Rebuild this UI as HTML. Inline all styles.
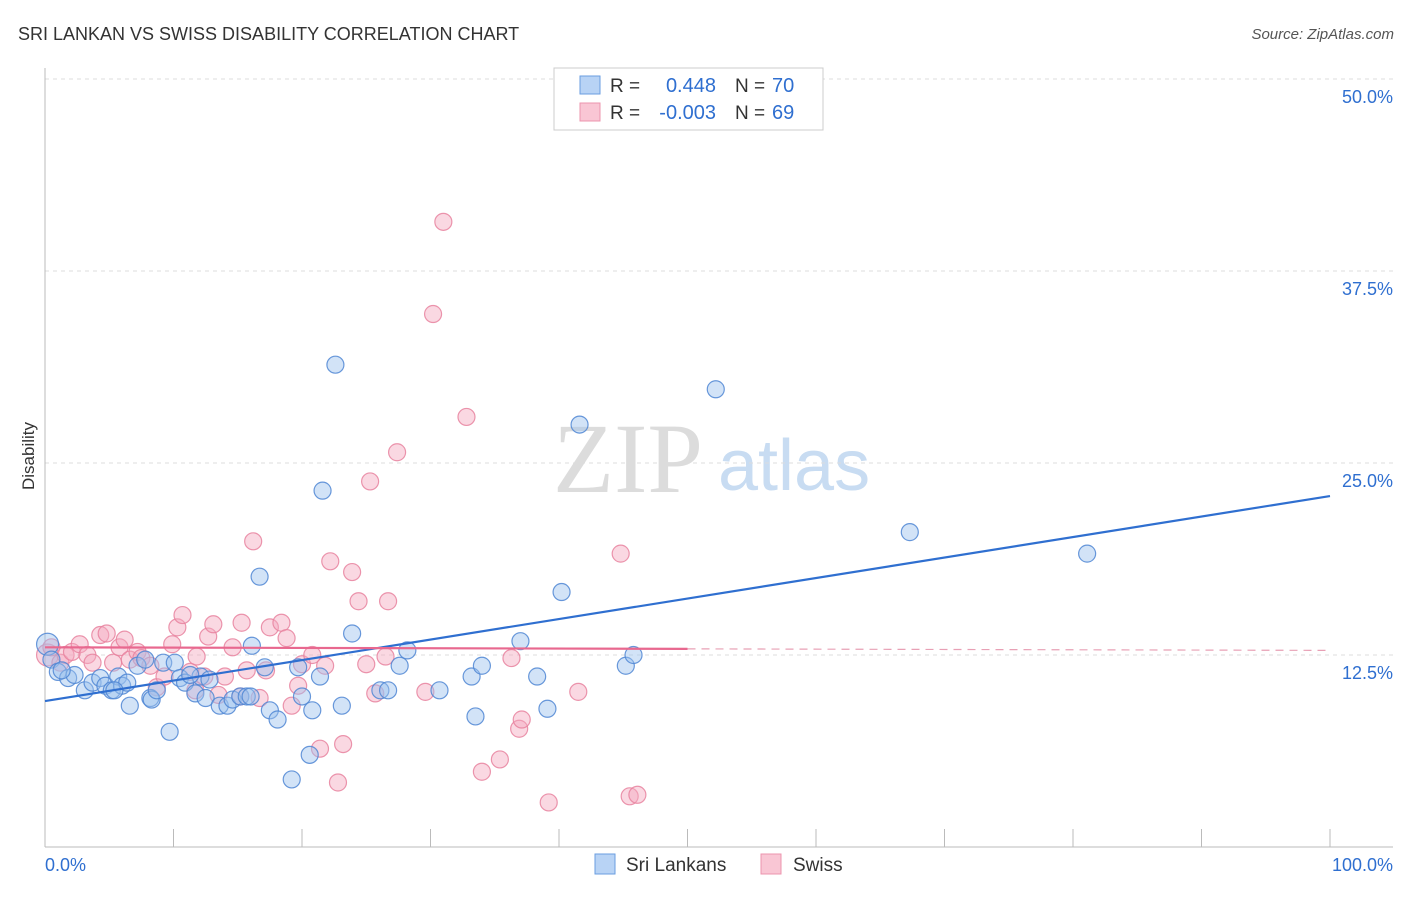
<!DOCTYPE html>
<html><head><meta charset="utf-8"><style>
body{margin:0;background:#fff;font-family:"Liberation Sans",sans-serif}
svg text{font-family:"Liberation Sans",sans-serif}
</style></head><body>
<svg id="c" width="1406" height="892">
<text x="18" y="40" font-size="18" fill="#333">SRI LANKAN VS SWISS DISABILITY CORRELATION CHART</text>
<text x="1394" y="39" font-size="15" fill="#555" font-style="italic" text-anchor="end">Source: ZipAtlas.com</text>
<text x="34" y="456" font-size="17" fill="#333" text-anchor="middle" transform="rotate(-90 34 456)">Disability</text>
<text x="553" y="492" font-size="100" fill="#dcdcdc" style="font-family:'Liberation Serif',serif">ZIP</text>
<text x="718" y="490" font-size="72" fill="#c8dcf2">atlas</text>
<g id="grid"></g><g id="pts"></g><g id="lines"></g>
<g>
<rect x="554" y="68" width="269" height="62" fill="#fff" stroke="#ccc"/>
<rect x="580" y="76" width="20" height="18" fill="#b8d3f5" stroke="#6a9ee0"/>
<text x="610" y="92" font-size="19" fill="#333">R =</text><text x="716" y="92" font-size="20" fill="#2f6fd0" text-anchor="end">0.448</text>
<text x="735" y="92" font-size="19" fill="#333">N =</text><text x="772" y="92" font-size="20" fill="#2f6fd0">70</text>
<rect x="580" y="103" width="20" height="18" fill="#f9c6d4" stroke="#ec94ae"/>
<text x="610" y="119" font-size="19" fill="#333">R =</text><text x="716" y="119" font-size="20" fill="#2f6fd0" text-anchor="end">-0.003</text>
<text x="735" y="119" font-size="19" fill="#333">N =</text><text x="772" y="119" font-size="20" fill="#2f6fd0">69</text>
</g>
<g>
<rect x="595" y="854" width="20" height="20" fill="#b8d3f5" stroke="#6a9ee0"/>
<text x="626" y="871" font-size="19" fill="#333">Sri Lankans</text>
<rect x="761" y="854" width="20" height="20" fill="#f9c6d4" stroke="#ec94ae"/>
<text x="793" y="871" font-size="19" fill="#333">Swiss</text>
</g>
</svg>
<script>
const yTicks=[12.5,25,37.5,50];
const yTickLabels=["12.5%","25.0%","37.5%","50.0%"];
const xTickLabels=["0.0%","100.0%"];
const blueX=[0.2,0.5,1.0,1.8,2.3,3.1,3.7,4.3,4.7,5.2,5.7,6.0,6.4,6.6,7.2,7.8,8.2,8.3,8.7,9.2,9.7,10.1,10.5,10.9,11.7,12.1,12.5,12.8,13.6,14.2,14.6,15.2,15.7,16.1,16.7,17.1,17.5,18.1,19.2,19.7,20.0,20.6,20.8,21.4,21.6,22.6,23.1,23.9,26.1,26.7,27.6,28.2,30.7,33.2,33.5,34.0,37.0,38.3,39.1,40.2,41.6,45.2,45.8,52.2,67.3,81.1,1.3,5.4,16.0,11.3];
const blueY=[13.2,12.2,11.4,11.0,11.2,10.2,10.7,11.0,10.5,10.2,11.1,10.5,10.7,9.2,11.8,12.2,9.7,9.6,10.2,12.0,7.5,12.0,11.0,10.7,10.0,11.1,9.7,10.9,9.2,9.2,9.6,9.8,9.8,13.1,17.6,11.7,8.9,8.3,4.4,11.7,9.8,6.0,8.9,11.1,23.2,31.4,9.2,13.9,10.2,10.2,11.8,12.8,10.2,11.1,8.5,11.8,13.4,11.1,9.0,16.6,27.5,11.8,12.5,29.8,20.5,19.1,11.5,10.2,9.8,11.2];
const pinkX=[0.2,0.5,1.2,1.6,2.1,2.7,3.3,3.7,4.3,4.8,5.3,5.8,6.2,6.6,7.2,7.5,8.2,8.7,9.3,9.9,10.3,10.7,11.3,11.7,11.8,12.4,12.7,13.1,13.5,14.0,14.6,15.2,15.3,15.7,16.2,16.7,17.2,17.5,18.4,18.8,19.2,19.7,20.0,20.8,21.4,21.8,22.2,22.8,23.2,23.9,24.4,25.0,25.3,25.7,26.5,26.7,27.4,29.6,30.2,31.0,32.8,34.0,35.4,36.3,36.9,37.1,39.2,41.5,44.8,45.5,46.1];
const pinkY=[12.5,13.0,12.0,12.5,12.7,13.2,12.5,12.0,13.8,13.9,12.0,13.0,13.5,12.2,12.7,12.3,11.8,10.4,11.1,13.2,14.3,15.1,11.4,10.2,12.4,11.1,13.7,14.5,9.9,11.1,13.0,9.8,14.6,11.5,19.9,9.7,11.5,14.3,14.6,13.6,9.2,10.5,11.9,12.5,6.4,11.8,18.6,4.2,6.7,17.9,16.0,11.9,23.8,10.0,12.4,16.0,25.7,10.1,34.7,40.7,28.0,4.9,5.7,12.3,7.7,8.3,2.9,10.1,19.1,3.3,3.4];
const blueTrend=[9.5,22.85];
const pinkTrend=[13.0,12.8];
const NS='http://www.w3.org/2000/svg';
const X0=45,X1=1330,Y0=847,Y50=79;
const sx=v=>X0+(X1-X0)*v/100;
const sy=v=>Y0-(Y0-Y50)*v/50;
function mk(tag,attrs,parent){const e=document.createElementNS(NS,tag);for(const k in attrs)e.setAttribute(k,attrs[k]);parent.appendChild(e);return e;}
const grid=document.getElementById('grid');
yTicks.forEach((t,i)=>{
  const l=mk('line',{x1:X0,x2:1393,y1:sy(t),y2:sy(t),stroke:'#ddd','stroke-dasharray':'4,4'},grid);
  
  
  const tx=mk('text',{x:1393,y:sy(t)+24,'font-size':18,fill:'#2f6fd0','text-anchor':'end'},grid);
  tx.textContent=yTickLabels[i];
  
  
});
mk('line',{x1:X0,x2:X0,y1:68,y2:Y0,stroke:'#bbb'},grid);
mk('line',{x1:X0,x2:1393,y1:Y0,y2:Y0,stroke:'#bbb'},grid);
for(let i=0;i<=10;i++){const tk=mk('line',{x1:sx(i*10),x2:sx(i*10),y1:829,y2:Y0,stroke:'#bbb'},grid);
  
  }
[[0,'start',45],[100,'end',1393]].forEach((p,i)=>{const tx=mk('text',{x:p[2],y:871,'font-size':18,fill:'#2f6fd0','text-anchor':p[1]},grid);tx.textContent=xTickLabels[i];
  
  });
const pts=document.getElementById('pts');
function drawPts(xs,ys,fill,stroke,name){xs.forEach((x,i)=>{const c=mk('circle',{cx:sx(x),cy:sy(ys[i]),r:i===0?11:8.5,fill:fill,'fill-opacity':0.45,stroke:stroke,'stroke-width':1.2,'stroke-opacity':0.85},pts);
  
  });}
drawPts(pinkX,pinkY,'#f4a9bf','#e7839f','swiss-point');
drawPts(blueX,blueY,'#9cc0ee','#4f86d4','sri-lankan-point');
const lines=document.getElementById('lines');
const bl=mk('line',{x1:sx(0),y1:sy(blueTrend[0]),x2:sx(100),y2:sy(blueTrend[1]),stroke:'#2f6fd0','stroke-width':2.2},lines);


const pm=pinkTrend[0]+(pinkTrend[1]-pinkTrend[0])*0.5;
const pl=mk('line',{x1:sx(0),y1:sy(pinkTrend[0]),x2:sx(50),y2:sy(pm),stroke:'#e8688f','stroke-width':2.2},lines);


const pd=mk('line',{x1:sx(50),y1:sy(pm),x2:sx(100),y2:sy(pinkTrend[1]),stroke:'#e8a0b5','stroke-width':1.2,'stroke-dasharray':'8,6'},lines);


</script>
</body></html>
